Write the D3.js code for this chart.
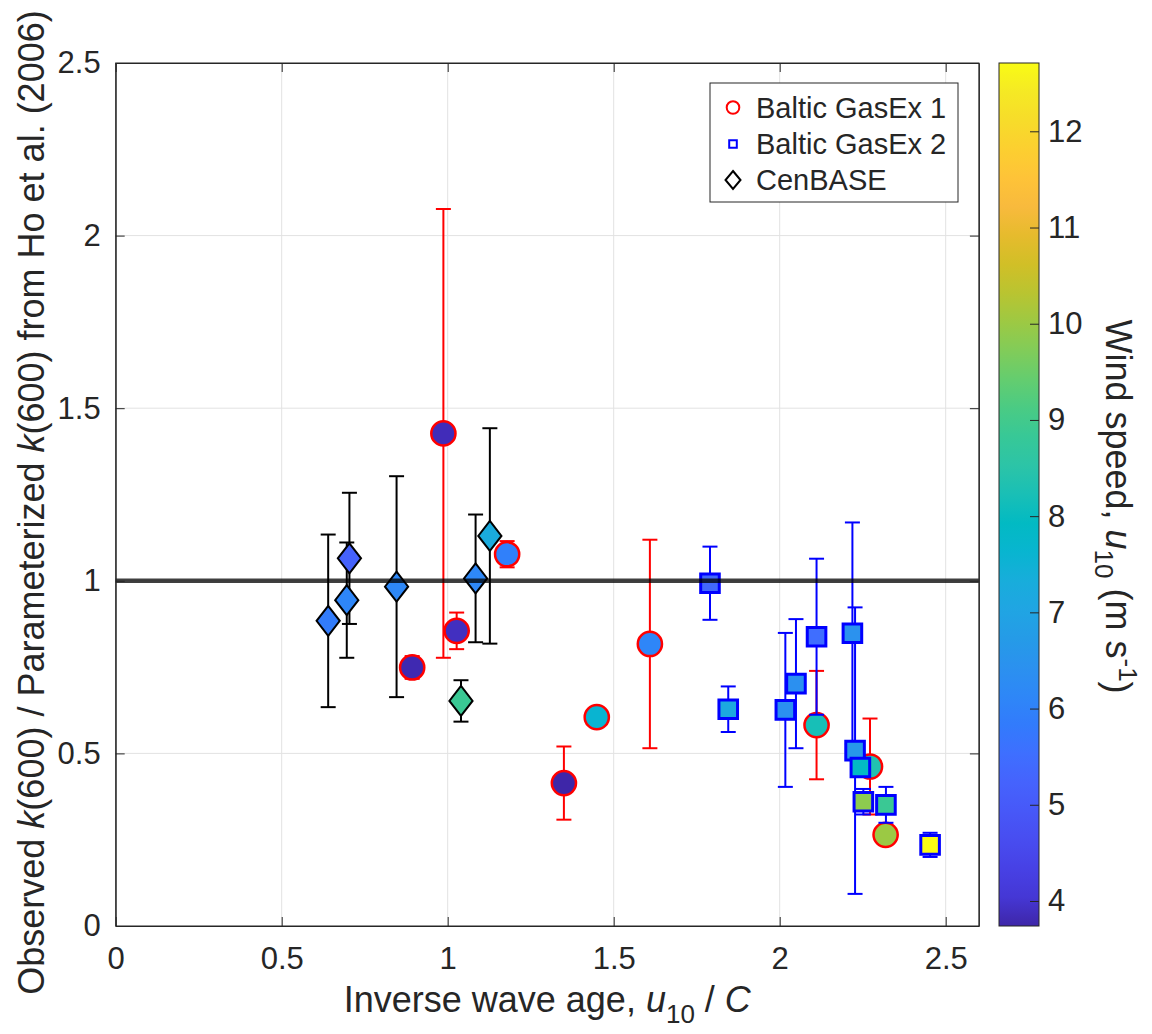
<!DOCTYPE html>
<html>
<head>
<meta charset="utf-8">
<script src="https://cdn.jsdelivr.net/npm/d3@7/dist/d3.min.js"></script>
<style>
    body { margin: 0; background: #fff; }
    svg text { font-family: "Liberation Sans", Arial, Helvetica, sans-serif; fill: #262626; }
</style>
</head>
<body>
<div id="chart"></div>
<script>
'use strict';

// Baltic GasEx 1 (circles)
const gasEx1X = [0.987, 0.893, 1.027, 1.179, 1.350, 1.449, 1.609, 2.111, 2.272, 2.319];
const gasEx1Y = [1.427, 0.749, 0.855, 1.077, 0.414, 0.605, 0.817, 0.582, 0.462, 0.264];
const gasEx1Err = [0.650, 0.033, 0.053, 0.038, 0.106, 0.020, 0.302, 0.157, 0.139, 0.020];
const gasEx1Wind = [3.85, 3.80, 3.90, 5.95, 3.74, 7.60, 6.10, 8.20, 8.35, 10.0];

// Baltic GasEx 2 (squares)
const gasEx2X = [1.790, 1.845, 2.017, 2.049, 2.111, 2.219, 2.227, 2.243, 2.252, 2.320, 2.453];
const gasEx2Y = [0.993, 0.628, 0.626, 0.702, 0.838, 0.848, 0.508, 0.459, 0.360, 0.351, 0.235];
const gasEx2Err = [0.106, 0.066, 0.223, 0.187, 0.226, 0.321, 0.415, 0.020, 0.037, 0.052, 0.035];
const gasEx2Wind = [5.35, 7.16, 6.40, 6.40, 5.50, 6.45, 6.65, 7.90, 9.85, 8.87, 12.71];

// CenBASE (diamonds)
const cenBaseX = [0.640, 0.704, 0.696, 0.846, 1.084, 1.127, 1.040];
const cenBaseY = [0.884, 1.065, 0.944, 0.983, 1.007, 1.130, 0.652];
const cenBaseErr = [0.250, 0.190, 0.167, 0.320, 0.185, 0.312, 0.060];
const cenBaseWind = [5.87, 5.20, 6.10, 6.15, 6.15, 7.25, 8.87];

const xTicks = [0, 0.5, 1, 1.5, 2, 2.5];
const yTicks = [0, 0.5, 1, 1.5, 2, 2.5];
const windTicks = [4, 5, 6, 7, 8, 9, 10, 11, 12];
const windRange = [3.74, 12.71];
const refLine = 1;

const legendNames = ['Baltic GasEx 1', 'Baltic GasEx 2', 'CenBASE'];

// matlab parula, every 2nd entry of the 64 colour table
const parula = ['#3e26a8', '#4537d5', '#4741e5', '#484df0', '#4758f8', '#4563fd', '#3e6fff', '#327bfc',
    '#2e87f7', '#2b91ef', '#259be7', '#20a5e3', '#18addb', '#08b5d0', '#02bac3', '#19bfb6', '#2cc4a7',
    '#37c897', '#4acb84', '#64cd6f', '#81cc59', '#9dc943', '#b9c431', '#d1bf27', '#e6bb2d', '#f8ba3d',
    '#fec338', '#fccf30', '#f7dc2a', '#f5e924', '#f9fb15'];

class WindRatioChart {

    constructor(divId, width, height) {
        this.width = width;
        this.height = height;
        this.svg = d3.select('#' + divId).append('svg')
            .attr('width', width)
            .attr('height', height);

        this.options = {
            left: 115.7, right: 978.9, top: 63, bottom: 926,
            tickLength: 9,
            barLeft: 999, barRight: 1039
        };

        this.x = d3.scaleLinear().domain([0, 2.6]).range([this.options.left, this.options.right]);
        this.y = d3.scaleLinear().domain([0, 2.5]).range([this.options.bottom, this.options.top]);
        this.color = d3.scaleSequential(d3.piecewise(d3.interpolateRgb, parula)).domain(windRange);
        this.windY = d3.scaleLinear().domain(windRange).range([this.options.bottom, this.options.top]);
    }

    series() {
        let zip = function (xs, ys, es, ws) {
            return xs.map(function (v, i) {
                return {x: v, y: ys[i], err: es[i], wind: ws[i]};
            });
        };
        return [
            {name: legendNames[0], shape: 'circle', edge: '#ff0000', points: zip(gasEx1X, gasEx1Y, gasEx1Err, gasEx1Wind)},
            {name: legendNames[1], shape: 'square', edge: '#0000ff', points: zip(gasEx2X, gasEx2Y, gasEx2Err, gasEx2Wind)},
            {name: legendNames[2], shape: 'diamond', edge: '#000000', points: zip(cenBaseX, cenBaseY, cenBaseErr, cenBaseWind)}
        ];
    }

    markerPath(shape, big) {
        if (shape === 'circle') {
            let r = big ? 12.1 : 6.3;
            return 'M' + (-r) + ',0A' + r + ',' + r + ' 0 1,0 ' + r + ',0A' + r + ',' + r + ' 0 1,0 ' + (-r) + ',0Z';
        }
        if (shape === 'square') {
            let h = big ? 9.3 : 3.8;
            return 'M' + (-h) + ',' + (-h) + 'H' + h + 'V' + h + 'H' + (-h) + 'Z';
        }
        let w = big ? 11.6 : 7.5, t = big ? 15 : 9;
        return 'M0,' + (-t) + 'L' + w + ',0L0,' + t + 'L' + (-w) + ',0Z';
    }

    renderGrid() {
        let self = this, o = this.options;
        let grid = this.svg.append('g').attr('class', 'grid');

        grid.selectAll('.gx').data(xTicks.filter(function (d) { return d > 0; }))
            .enter().append('line')
            .attr('x1', function (d) { return self.x(d); })
            .attr('x2', function (d) { return self.x(d); })
            .attr('y1', o.top).attr('y2', o.bottom)
            .style('stroke', '#e2e2e2').style('stroke-width', 1);

        grid.selectAll('.gy').data(yTicks.filter(function (d) { return d > 0 && d < 2.5; }))
            .enter().append('line')
            .attr('y1', function (d) { return self.y(d); })
            .attr('y2', function (d) { return self.y(d); })
            .attr('x1', o.left).attr('x2', o.right)
            .style('stroke', '#e2e2e2').style('stroke-width', 1);
    }

    renderAxes() {
        let o = this.options;
        let fmt = function (d) { return String(d); };

        let styleAxis = function (g) {
            g.select('.domain').style('stroke', '#262626');
            g.selectAll('.tick line').style('stroke', '#262626');
            g.selectAll('.tick text').style('font-size', '31px').style('fill', '#262626');
            g.attr('font-family', null);
        };

        this.svg.append('g').attr('transform', 'translate(0,' + o.bottom + ')')
            .call(d3.axisBottom(this.x).tickValues(xTicks).tickFormat(fmt).tickSizeInner(-o.tickLength).tickSizeOuter(0).tickPadding(21))
            .call(styleAxis);
        this.svg.append('g').attr('transform', 'translate(0,' + o.top + ')')
            .call(d3.axisTop(this.x).tickValues(xTicks).tickFormat('').tickSizeInner(-o.tickLength).tickSizeOuter(0))
            .call(styleAxis);
        this.svg.append('g').attr('transform', 'translate(' + o.left + ',0)')
            .call(d3.axisLeft(this.y).tickValues(yTicks).tickFormat(fmt).tickSizeInner(-o.tickLength).tickSizeOuter(0).tickPadding(15))
            .call(styleAxis);
        this.svg.append('g').attr('transform', 'translate(' + o.right + ',0)')
            .call(d3.axisRight(this.y).tickValues(yTicks).tickFormat('').tickSizeInner(-o.tickLength).tickSizeOuter(0))
            .call(styleAxis);

        // x label
        let xl = this.svg.append('text')
            .attr('x', (o.left + o.right) / 2)
            .attr('y', 1012)
            .style('font-size', '36px')
            .style('text-anchor', 'middle');
        xl.append('tspan').text('Inverse wave age, ');
        xl.append('tspan').text('u').style('font-style', 'italic');
        xl.append('tspan').text('10').style('font-size', '26px').attr('dy', 11);
        xl.append('tspan').text(' / ').attr('dy', -11);
        xl.append('tspan').text('C').style('font-style', 'italic');

        // y label
        let yl = this.svg.append('text')
            .attr('transform', 'translate(44,' + ((o.top + o.bottom) / 2 + 8) + ') rotate(-90)')
            .style('font-size', '36px')
            .style('text-anchor', 'middle');
        yl.append('tspan').text('Observed ');
        yl.append('tspan').text('k').style('font-style', 'italic');
        yl.append('tspan').text('(600) / Parameterized ');
        yl.append('tspan').text('k').style('font-style', 'italic');
        yl.append('tspan').text('(600) from Ho et al. (2006)');
    }

    renderSeries() {
        let self = this;

        this.series().forEach(function (s) {
            let g = self.svg.append('g').attr('class', 'series');

            let bars = g.selectAll('.bar').data(s.points).enter().append('g').attr('class', 'bar')
                .style('stroke', s.edge).style('stroke-width', 2);
            bars.append('line')
                .attr('x1', function (d) { return self.x(d.x); })
                .attr('x2', function (d) { return self.x(d.x); })
                .attr('y1', function (d) { return self.y(d.y - d.err); })
                .attr('y2', function (d) { return self.y(d.y + d.err); });
            [-1, 1].forEach(function (sign) {
                bars.append('line')
                    .attr('x1', function (d) { return self.x(d.x) - 7.5; })
                    .attr('x2', function (d) { return self.x(d.x) + 7.5; })
                    .attr('y1', function (d) { return self.y(d.y + sign * d.err); })
                    .attr('y2', function (d) { return self.y(d.y + sign * d.err); });
            });

            g.selectAll('.marker').data(s.points).enter().append('path')
                .attr('class', 'marker')
                .attr('d', self.markerPath(s.shape, true))
                .attr('transform', function (d) { return 'translate(' + self.x(d.x) + ',' + self.y(d.y) + ')'; })
                .style('fill', function (d) { return self.color(d.wind); })
                .style('stroke', s.edge)
                .style('stroke-width', s.shape === 'square' ? 3 : (s.shape === 'circle' ? 2.5 : 2));
        });

        // reference line at ratio 1
        this.svg.append('line')
            .attr('x1', this.options.left).attr('x2', this.options.right)
            .attr('y1', this.y(refLine)).attr('y2', this.y(refLine))
            .style('stroke', '#000').style('stroke-opacity', 0.75).style('stroke-width', 4.5);
    }

    renderBox() {
        let o = this.options;
        this.svg.append('rect')
            .attr('x', o.left).attr('y', o.top)
            .attr('width', o.right - o.left).attr('height', o.bottom - o.top)
            .style('fill', 'none').style('stroke', '#262626').style('stroke-width', 1);
    }

    renderLegend() {
        let self = this;
        let lg = this.svg.append('g').attr('class', 'legend');
        lg.append('rect')
            .attr('x', 710).attr('y', 83).attr('width', 248).attr('height', 119)
            .style('fill', '#fff').style('stroke', '#262626').style('stroke-width', 1);

        let rows = [107.5, 144, 180];
        this.series().forEach(function (s, i) {
            lg.append('path')
                .attr('d', self.markerPath(s.shape, false))
                .attr('transform', 'translate(733,' + rows[i] + ')')
                .style('fill', 'none').style('stroke', s.edge).style('stroke-width', 2);
            lg.append('text')
                .attr('x', 756).attr('y', rows[i]).attr('dy', '0.36em')
                .style('font-size', '29px')
                .text(s.name);
        });
    }

    renderColorbar() {
        let self = this, o = this.options;

        let grad = this.svg.append('defs').append('linearGradient')
            .attr('id', 'parulaGrad')
            .attr('x1', 0).attr('y1', 1).attr('x2', 0).attr('y2', 0);
        parula.forEach(function (c, i) {
            grad.append('stop').attr('offset', i / (parula.length - 1)).attr('stop-color', c);
        });

        this.svg.append('rect')
            .attr('x', o.barLeft).attr('y', o.top)
            .attr('width', o.barRight - o.barLeft).attr('height', o.bottom - o.top)
            .style('fill', 'url(#parulaGrad)')
            .style('stroke', '#262626').style('stroke-width', 1);

        let ax = this.svg.append('g').attr('transform', 'translate(' + o.barRight + ',0)')
            .call(d3.axisRight(this.windY).tickValues(windTicks).tickSizeInner(-o.tickLength).tickSizeOuter(0).tickPadding(9));
        ax.select('.domain').remove();
        ax.selectAll('.tick line').style('stroke', '#262626');
        ax.selectAll('.tick text').style('font-size', '31px').style('fill', '#262626');
        ax.attr('font-family', null);

        let cl = this.svg.append('text')
            .attr('transform', 'translate(1106,' + ((o.top + o.bottom) / 2 + 12) + ') rotate(90)')
            .style('font-size', '36px')
            .style('text-anchor', 'middle');
        cl.append('tspan').text('Wind speed, ');
        cl.append('tspan').text('u').style('font-style', 'italic');
        cl.append('tspan').text('10').style('font-size', '26px').attr('dy', 11);
        cl.append('tspan').text(' (m s').attr('dy', -11);
        cl.append('tspan').text('-1').style('font-size', '26px').attr('dy', -13);
        cl.append('tspan').text(')').attr('dy', 13);
    }

    render() {
        this.svg.selectAll('*').remove();
        this.renderGrid();
        this.renderSeries();
        this.renderBox();
        this.renderAxes();
        this.renderLegend();
        this.renderColorbar();
    }
}

let chart = new WindRatioChart('chart', 1152, 1034);
chart.render();
</script>
</body>
</html>
